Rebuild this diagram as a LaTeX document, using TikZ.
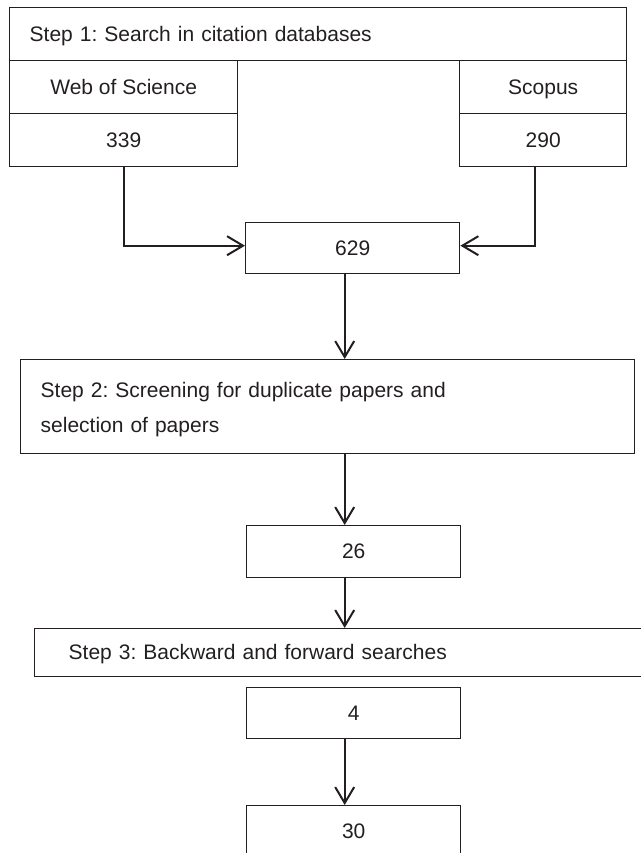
\documentclass[tikz,border=0pt]{standalone}
\usepackage{fontspec}
\setmainfont{Liberation Sans}
\usetikzlibrary{arrows.meta,calc}
\definecolor{ink}{RGB}{35,31,32}
\frenchspacing
\begin{document}
\begin{tikzpicture}[x=1pt,y=-1pt,
  box/.style={draw=ink,line width=1.4pt,anchor=north west,inner sep=0pt,
    font=\fontsize{21pt}{24pt}\selectfont,text=ink,text height=16.5pt,text depth=2.5pt},
  numbox/.style={box,align=center},
  stepbox/.style={box,align=left},
  arr/.style={draw=ink,line width=2.1pt,-{Straight Barb[length=16pt,width=19pt,line width=2pt]}},
]
\useasboundingbox (0,0) rectangle (640,853);
% Step 1
\node[stepbox,minimum width=617pt,minimum height=53pt,text width=577pt,inner xsep=20pt] (s1) at (9,7) {Step 1: Search in citation databases};
\node[numbox,minimum width=228pt,minimum height=53pt] (wos) at (9,60) {Web of Science};
\node[numbox,minimum width=228pt,minimum height=53pt] (n339) at (9,113) {339};
\node[numbox,minimum width=167pt,minimum height=53pt] (scop) at (459,60) {Scopus};
\node[numbox,minimum width=167pt,minimum height=53pt] (n290) at (459,113) {290};
% 629
\node[numbox,minimum width=214pt,minimum height=51pt] (n629) at (245,222) {629};
% Step 2
\node[stepbox,minimum width=614pt,minimum height=94pt,text width=574pt,inner xsep=20pt,
  font=\fontsize{21pt}{35pt}\selectfont,text height=15pt,text depth=34pt] (s2) at (20,359) {Step 2: Screening for duplicate papers and\\selection of papers};
% 26
\node[numbox,minimum width=214pt,minimum height=52pt] (n26) at (246,525) {26};
% Step 3
\node[stepbox,minimum width=620pt,minimum height=48pt,text width=552pt,inner xsep=34pt] (s3) at (34,628) {Step 3: Backward and forward searches};
% 4 and 30
\node[numbox,minimum width=214pt,minimum height=51pt] (n4) at (246,687) {4};
\node[numbox,minimum width=214pt,minimum height=52pt] (n30) at (246,805) {30};
% connectors
\draw[arr] (n339.south) |- ([yshift=2.5pt]n629.west);
\draw[arr] ([xshift=-8.5pt]n290.south) |- ([yshift=2.5pt]n629.east);
\draw[arr] ([xshift=-8pt]n629.south) -- ([xshift=-8pt]n629.south |- s2.north);
\draw[arr] ([xshift=-9pt]n26.north |- s2.south) -- ([xshift=-9pt]n26.north);
\draw[arr] ([xshift=-9pt]n26.south) -- ([xshift=-9pt]n26.south |- s3.north);
\draw[arr] ([xshift=-9pt]n4.south) -- ([xshift=-9pt]n30.north);
\end{tikzpicture}
\end{document}
